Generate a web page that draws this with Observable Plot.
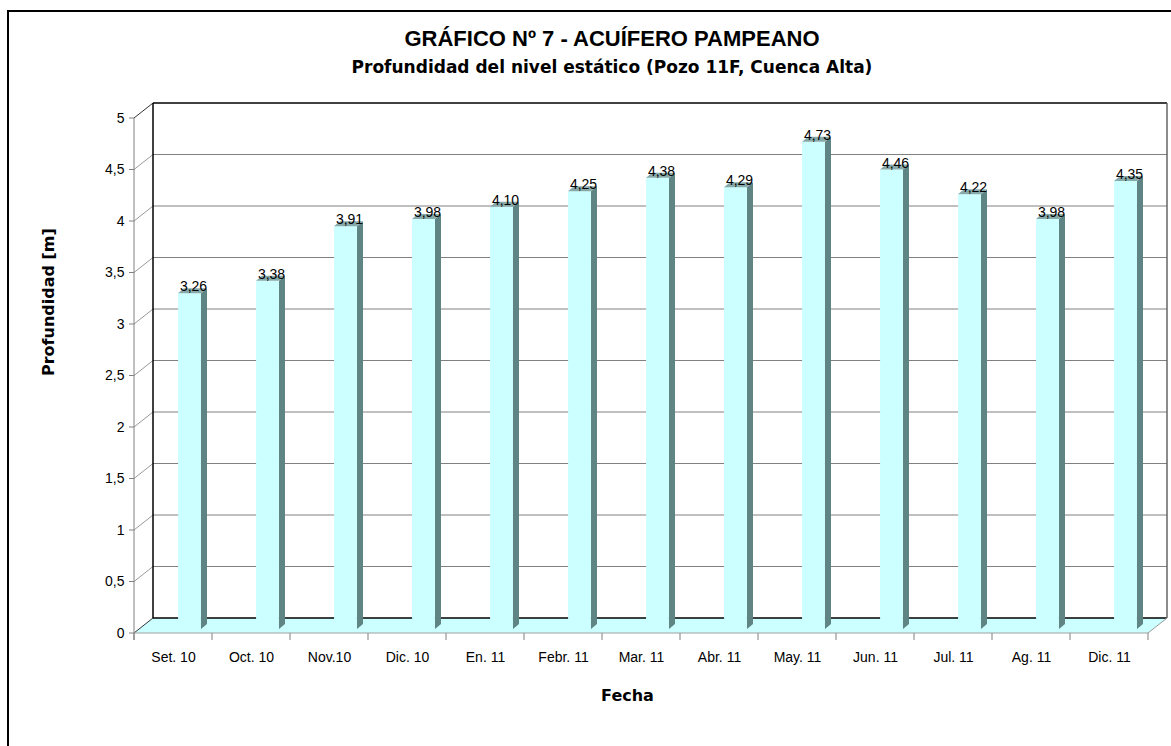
<!DOCTYPE html>
<html><head><meta charset="utf-8">
<script src="https://cdn.jsdelivr.net/npm/d3@7"></script>
<script src="https://cdn.jsdelivr.net/npm/@observablehq/plot@0.6"></script>
<style>
body{margin:0;background:#fff;overflow:hidden;width:1171px;height:746px;position:relative;font-family:"Liberation Sans",Arial,sans-serif;}
#frame{position:absolute;left:7px;top:10px;width:1300px;height:900px;border-top:2px solid #000;border-left:2px solid #000;}
#title{position:absolute;left:0;top:28px;width:1224px;text-align:center;font:bold 22px "Liberation Sans",Arial,sans-serif;line-height:22px;color:#000;}
#subtitle{position:absolute;left:0;top:57px;width:1224px;text-align:center;font:bold 17px "DejaVu Sans",sans-serif;line-height:20px;color:#000;}
#chart{position:absolute;left:0;top:90px;}
</style></head><body>
<div id="frame"></div>
<div id="title">GRÁFICO Nº 7 - ACUÍFERO PAMPEANO</div>
<div id="subtitle">Profundidad del nivel estático (Pozo 11F, Cuenca Alta)</div>
<div id="chart"></div>
<script>
const categories = ["Set. 10","Oct. 10","Nov.10","Dic. 10","En. 11","Febr. 11","Mar. 11","Abr. 11","May. 11","Jun. 11","Jul. 11","Ag. 11","Dic. 11"];
const values = [3.26, 3.38, 3.91, 3.98, 4.10, 4.25, 4.38, 4.29, 4.73, 4.46, 4.22, 3.98, 4.35];
const valueLabels = ["3,26","3,38","3,91","3,98","4,10","4,25","4,38","4,29","4,73","4,46","4,22","3,98","4,35"];
const yTicks = [0, 0.5, 1, 1.5, 2, 2.5, 3, 3.5, 4, 4.5, 5];
const yTickLabels = ["0","0,5","1","1,5","2","2,5","3","3,5","4","4,5","5"];
const yTitle = "Profundidad [m]";
const xTitle = "Fecha";

const data = categories.map((c, i) => ({fecha: c, prof: values[i], label: valueLabels[i]}));

// 3D geometry (pixel offsets)
const DX = 19, DY = -15;          // back wall offset
const FACE_L = 5, FACE_R = 28;    // front face relative to band centre
const SIDE = 6, RISE = 5, LIFT = 4;

function stepOf(x) { return x(categories[1]) - x(categories[0]); }

function walls(index, scales) {
  const x = scales.x, y = scales.y;
  const step = stepOf(x);
  const x0 = x(categories[0]), x1 = x(categories[categories.length - 1]) + step;
  const y0 = y(0), y5 = y(5);
  const g = d3.create("svg:g").attr("fill", "none");
  // floor
  g.append("path")
    .attr("d", `M${x0},${y0}L${x1},${y0}L${x1 + DX},${y0 + DY}L${x0 + DX},${y0 + DY}Z`)
    .attr("fill", "#ccffff").attr("stroke", "none");
  // back wall grid
  for (const v of yTicks) {
    const yy = y(v) + DY;
    g.append("line").attr("x1", x0 + DX).attr("x2", x1 + DX).attr("y1", yy).attr("y2", yy)
      .attr("stroke", (v === 0 || v === 5) ? "#000" : "#808080")
      .attr("stroke-width", (v === 0 || v === 5) ? 1.5 : 1);
    g.append("line").attr("x1", x0).attr("x2", x0 + DX).attr("y1", y(v)).attr("y2", yy)
      .attr("stroke", (v === 0 || v === 5) ? "#333" : "#999");
    g.append("line").attr("x1", x0 - 5).attr("x2", x0).attr("y1", y(v)).attr("y2", y(v))
      .attr("stroke", "#808080");
  }
  // left wall edge & right wall edge
  g.append("line").attr("x1", x0 + DX).attr("x2", x0 + DX).attr("y1", y0 + DY).attr("y2", y5 + DY)
    .attr("stroke", "#000").attr("stroke-width", 1.5);
  g.append("line").attr("x1", x1 + DX).attr("x2", x1 + DX).attr("y1", y0 + DY).attr("y2", y5 + DY)
    .attr("stroke", "#666").attr("stroke-width", 1.5);
  // floor right edge
  g.append("line").attr("x1", x1).attr("x2", x1 + DX).attr("y1", y0).attr("y2", y0 + DY)
    .attr("stroke", "#999");
  // front y axis line
  g.append("line").attr("x1", x0).attr("x2", x0).attr("y1", y0 + 7).attr("y2", y5)
    .attr("stroke", "#808080");
  // front x axis line and boundary ticks
  g.append("line").attr("x1", x0).attr("x2", x1).attr("y1", y0).attr("y2", y0)
    .attr("stroke", "#a0a0a0");
  for (let i = 0; i <= categories.length; i++) {
    const xx = x0 + i * step;
    g.append("line").attr("x1", xx).attr("x2", xx).attr("y1", y0).attr("y2", y0 + 7)
      .attr("stroke", "#808080");
  }
  return g.node();
}

function barFaces(index, scales) {
  const x = scales.x, y = scales.y;
  const step = stepOf(x);
  const g = d3.create("svg:g");
  for (const d of data) {
    const cx = x(d.fecha) + step / 2;
    const l = cx + FACE_L, r = cx + FACE_R;
    const yt = y(d.prof) - LIFT, yb = y(0) - LIFT;
    g.append("path")
      .attr("d", `M${r},${yb}L${r + SIDE},${yb - RISE}L${r + SIDE},${yt - RISE}L${r},${yt}Z`)
      .attr("fill", "#5e8484");
    g.append("path")
      .attr("d", `M${l},${yt}L${r},${yt}L${r + SIDE},${yt - RISE}L${l + SIDE},${yt - RISE}Z`)
      .attr("fill", "#88a9a9");
  }
  return g.node();
}

const W = 1171, H = 656;
const step0 = (1149 - 133) / categories.length;

const chart = Plot.plot({
  width: W, height: H,
  marginLeft: 133, marginRight: 22, marginTop: 28, marginBottom: 113,
  style: {fontFamily: "'Liberation Sans', Arial, sans-serif", fontSize: "14px", color: "#000", background: "transparent", overflow: "visible"},
  x: {domain: categories, padding: 0, label: null, tickSize: 0, tickPadding: 19},
  y: {domain: [0, 5], ticks: yTicks, tickFormat: d => yTickLabels[yTicks.indexOf(d)], label: null, tickSize: 0, tickPadding: 9},
  marks: [
    walls,
    Plot.barY(data, {x: "fecha", y: "prof", fill: "#ccffff", insetLeft: step0 / 2 + FACE_L, insetRight: step0 / 2 - FACE_R, dy: -LIFT}),
    barFaces,
    Plot.text(data, {x: "fecha", y: "prof", text: "label", dx: 20, dy: -11, fontSize: 14, fill: "#000"}),
    Plot.text([yTitle], {frameAnchor: "left", dx: -85, rotate: -90, fontWeight: "bold", fontSize: 16, fontFamily: "'DejaVu Sans', sans-serif", fill: "#000"}),
    Plot.text([xTitle], {frameAnchor: "bottom", dx: -14, dy: 67, fontWeight: "bold", fontSize: 16, fontFamily: "'DejaVu Sans', sans-serif", fill: "#000"})
  ]
});
document.getElementById("chart").appendChild(chart);
</script>
</body></html>
